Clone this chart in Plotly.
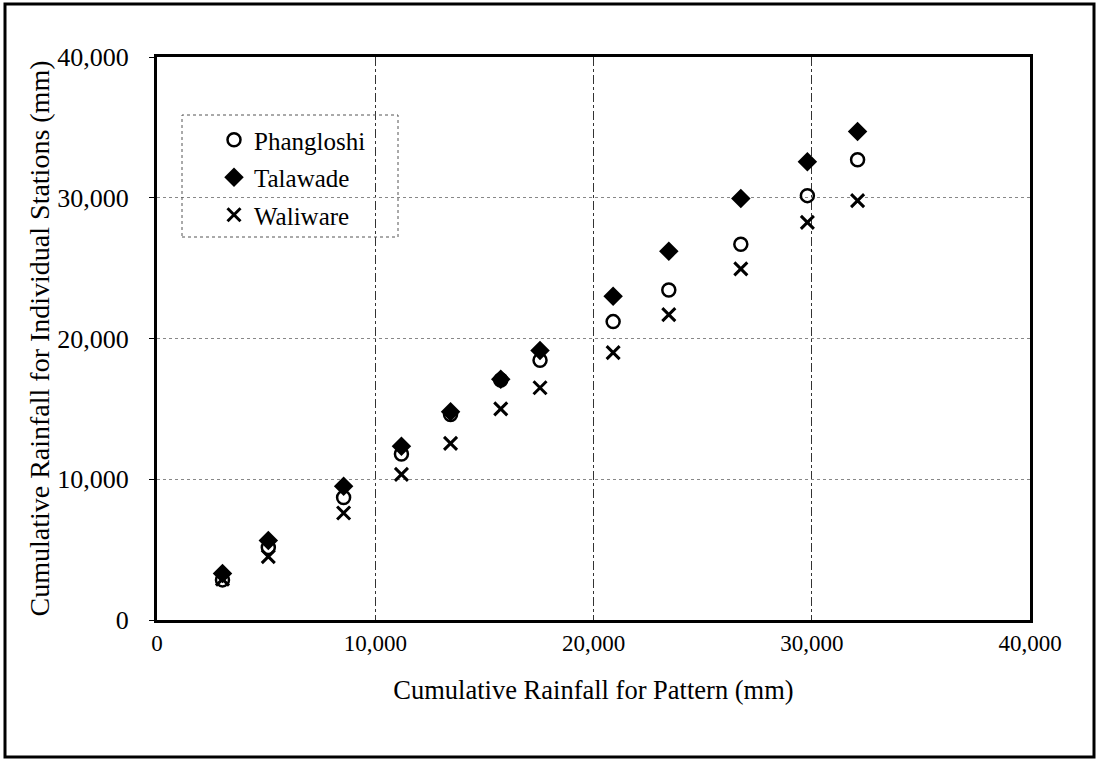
import plotly.graph_objects as go

pattern = [3000, 5100, 8550, 11200, 13450, 15750, 17550, 20900, 23450, 26750, 29800, 32100]
phangloshi = [2850, 5150, 8700, 11800, 14600, 17050, 18450, 21200, 23450, 26700, 30150, 32700]
talawade = [3300, 5650, 9500, 12350, 14800, 17100, 19150, 23000, 26200, 29950, 32550, 34700]
waliware = [2900, 4500, 7600, 10350, 12550, 15000, 16500, 19000, 21700, 24950, 28250, 29800]

tick_vals = [0, 10000, 20000, 30000, 40000]
tick_text = ["0", "10,000", "20,000", "30,000", "40,000"]

FONT = "Liberation Serif, Times New Roman, serif"

fig = go.Figure()
fig.add_trace(go.Scatter(x=pattern, y=phangloshi, mode="markers", name="Phangloshi",
                         legendgroup="a",
                         marker=dict(symbol="circle-open", size=13, color="black", line=dict(width=2.5))))
fig.add_trace(go.Scatter(x=pattern, y=talawade, mode="markers", name="Talawade",
                         legendgroup="b",
                         marker=dict(symbol="diamond", size=15, color="black")))
fig.add_trace(go.Scatter(x=pattern, y=waliware, mode="markers", name="Waliware",
                         legendgroup="c",
                         marker=dict(symbol="x-thin-open", size=13, color="black", line=dict(width=3, color="black"))))

W, H = 1097, 762
L, R, T, B = 157, 1030, 57, 620
pw, ph = R - L, B - T

def px(xp):
    return (xp - L) / pw

def py(yp):
    return (B - yp) / ph

fig.update_layout(
    width=W, height=H,
    margin=dict(l=L, r=W - R, t=T, b=H - B),
    paper_bgcolor="white", plot_bgcolor="white",
    font=dict(family=FONT, color="black"),
    showlegend=True,
    legend=dict(x=px(214), y=py(117), xanchor="left", yanchor="top",
                font=dict(size=25, family=FONT), bgcolor="rgba(0,0,0,0)",
                traceorder="grouped", tracegroupgap=2, itemwidth=30),
    xaxis=dict(range=[0, 40000], tickvals=tick_vals, ticktext=tick_text,
               tickfont=dict(size=23, family=FONT),
               showline=True, linewidth=3, linecolor="black", mirror=True,
               showgrid=True, gridcolor="#333", griddash="dashdot", gridwidth=1,
               ticks="", zeroline=False,
               title=dict(text="Cumulative Rainfall for Pattern (mm)",
                          font=dict(size=26.5, family=FONT), standoff=26)),
    yaxis=dict(range=[0, 40000], tickvals=tick_vals, ticktext=tick_text,
               tickfont=dict(size=26, family=FONT),
               showline=True, linewidth=3, linecolor="black", mirror=True,
               showgrid=True, gridcolor="#888", griddash="dot", gridwidth=1,
               ticks="outside", ticklen=5, tickcolor="black", zeroline=False,
               ticklabelstandoff=15,
               title=dict(text="Cumulative Rainfall for Individual Stations (mm)",
                          font=dict(size=28, family=FONT), standoff=0)),
    shapes=[
        dict(type="rect", xref="paper", yref="paper",
             x0=px(182), x1=px(398), y0=py(237), y1=py(115),
             line=dict(color="#555", width=1, dash="dot"), fillcolor="rgba(0,0,0,0)"),
        dict(type="rect", xref="paper", yref="paper",
             x0=px(5), x1=px(1094), y0=py(757), y1=py(4),
             line=dict(color="black", width=3)),
    ],
)

fig.write_html("out.html")
